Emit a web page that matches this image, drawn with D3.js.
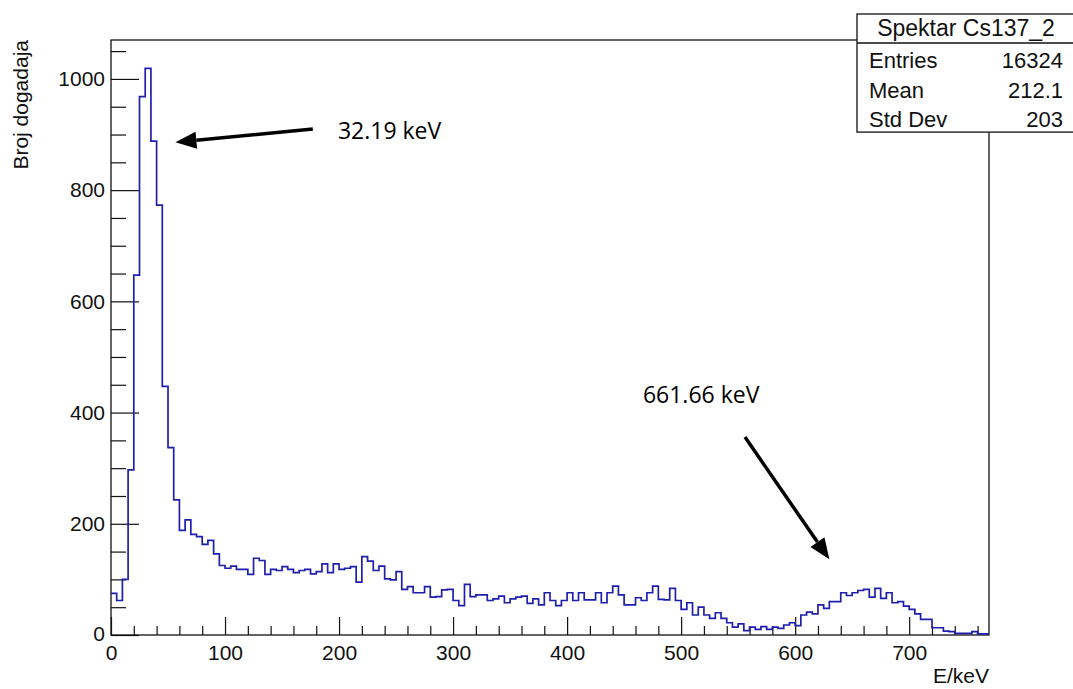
<!DOCTYPE html>
<html>
<head>
<meta charset="utf-8">
<script src="https://cdn.jsdelivr.net/npm/d3@7"></script>
<style>
  body { margin: 0; background: #fff; }
  svg { display: block; }
</style>
</head>
<body>
<div id="chart"></div>
<script>
'use strict';

// histogram: 5 keV bins from 0 to 770 keV
const binWidth = 5;
const xMax = 770;
const counts = [
  75, 62, 100, 297, 647, 968, 1019, 888, 773, 447, 337, 243, 188, 207, 181, 177, 163, 170, 146, 125,
  120, 124, 118, 118, 109, 138, 134, 109, 118, 116, 123, 118, 112, 116, 118, 110, 114, 128, 112, 128,
  118, 120, 123, 95, 141, 133, 116, 124, 101, 99, 114, 82, 87, 76, 76, 87, 68, 69, 81, 82,
  62, 53, 91, 69, 72, 72, 62, 65, 70, 58, 65, 68, 70, 57, 65, 54, 76, 62, 53, 62,
  76, 62, 76, 63, 63, 76, 58, 76, 88, 72, 54, 54, 67, 62, 76, 88, 64, 63, 84, 62,
  46, 58, 36, 50, 36, 30, 40, 30, 22, 14, 20, 8, 14, 10, 15, 10, 14, 12, 18, 22,
  17, 36, 41, 38, 54, 48, 60, 60, 76, 71, 76, 80, 82, 68, 84, 66, 76, 58, 60, 52,
  46, 38, 28, 28, 13, 13, 7, 6, 3, 3, 3, 6, 2, 2
];

const xTicks = [0, 100, 200, 300, 400, 500, 600, 700];
const yTicks = [0, 200, 400, 600, 800, 1000];

const statsTitle = 'Spektar Cs137_2';
const statsLabels = ['Entries', 'Mean', 'Std Dev'];
const statsValues = ['16324', '212.1', '203'];

// annotations in data coords: text anchor and arrow tail -> tip
const notes = [
  { text: '32.19 keV', tx: 199, ty: 892, x1: 177, y1: 910, x2: 56.5, y2: 886 },
  { text: '661.66 keV', tx: 466.5, ty: 417, x1: 556, y1: 356, x2: 630, y2: 136 },
];

const W = 1073, H = 689;
const frame = { left: 111, right: 989, top: 40, bottom: 635 };
const axisFont = '"Liberation Sans", Arial, Helvetica, sans-serif';

const svg = d3.select('#chart').append('svg')
  .attr('width', W).attr('height', H);

const x = d3.scaleLinear().domain([0, xMax]).range([frame.left, frame.right]);
const y = d3.scaleLinear().domain([0, 1070]).range([frame.bottom, frame.top]);

// frame
svg.append('rect')
  .attr('x', frame.left).attr('y', frame.top)
  .attr('width', frame.right - frame.left)
  .attr('height', frame.bottom - frame.top)
  .attr('fill', 'none').attr('stroke', '#111').attr('stroke-width', 1.3);

// y axis: major + minor ticks pointing inward
const yAxisG = svg.append('g')
  .attr('transform', `translate(${frame.left},0)`)
  .call(d3.axisLeft(y).tickValues(yTicks).tickSize(-28).tickPadding(6)
    .tickFormat(d3.format('d')));
svg.append('g')
  .attr('transform', `translate(${frame.left},0)`)
  .call(d3.axisLeft(y).tickValues(d3.range(0, 1051, 50).filter((v) => v % 200))
    .tickSize(-15).tickFormat(''));

// x axis
svg.append('g')
  .attr('transform', `translate(0,${frame.bottom})`)
  .call(d3.axisBottom(x).tickValues(xTicks).tickSize(-18).tickPadding(10)
    .tickFormat(d3.format('d')));
svg.append('g')
  .attr('transform', `translate(0,${frame.bottom})`)
  .call(d3.axisBottom(x).tickValues(d3.range(0, 761, 20).filter((v) => v % 100))
    .tickSize(-9).tickFormat(''));

svg.selectAll('.domain').remove();
svg.selectAll('.tick line').attr('stroke', '#111').attr('stroke-width', 1.2);
svg.selectAll('.tick text')
  .attr('font-family', axisFont).attr('font-size', 21).attr('fill', '#111');
// ROOT-ish placement of the zero label
yAxisG.selectAll('.tick text').filter((d) => d === 0).attr('dy', '0.25em');

// axis titles
svg.append('text')
  .attr('x', frame.right).attr('y', 683)
  .attr('text-anchor', 'end')
  .attr('font-family', axisFont).attr('font-size', 21).attr('fill', '#111')
  .text('E/keV');

svg.append('text')
  .attr('transform', `translate(28,${frame.top}) rotate(-90)`)
  .attr('text-anchor', 'end')
  .attr('font-family', axisFont).attr('font-size', 21).attr('fill', '#111')
  .text('Broj dogadaja');

// histogram as step line
const pts = counts.map((c, i) => [i * binWidth, c]);
pts.push([counts.length * binWidth, counts[counts.length - 1]]);

const line = d3.line()
  .x((d) => x(d[0]))
  .y((d) => y(d[1]))
  .curve(d3.curveStepAfter);

svg.append('path')
  .datum(pts)
  .attr('d', line)
  .attr('fill', 'none')
  .attr('stroke', '#1f1fae')
  .attr('stroke-width', 1.7);

// stats box
const box = { x: 857, y: 14, w: 220, titleH: 29, rowH: 29.7 };
const stats = svg.append('g');
stats.append('rect')
  .attr('x', box.x).attr('y', box.y)
  .attr('width', box.w).attr('height', box.titleH + 3 * box.rowH)
  .attr('fill', '#fff').attr('stroke', '#111').attr('stroke-width', 1.3);
stats.append('line')
  .attr('x1', box.x).attr('x2', box.x + box.w)
  .attr('y1', box.y + box.titleH).attr('y2', box.y + box.titleH)
  .attr('stroke', '#111').attr('stroke-width', 1.3);
stats.append('text')
  .attr('x', 966).attr('y', 36)
  .attr('text-anchor', 'middle')
  .attr('font-family', axisFont).attr('font-size', 23).attr('fill', '#111')
  .text(statsTitle);
statsLabels.forEach((lab, i) => {
  const by = 68 + i * box.rowH;
  stats.append('text')
    .attr('x', 869).attr('y', by)
    .attr('font-family', axisFont).attr('font-size', 22).attr('fill', '#111')
    .text(lab);
  stats.append('text')
    .attr('x', 1063).attr('y', by)
    .attr('text-anchor', 'end')
    .attr('font-family', axisFont).attr('font-size', 22).attr('fill', '#111')
    .text(statsValues[i]);
});

// annotations with arrows
const arrow = (g, x1, y1, x2, y2) => {
  const a = Math.atan2(y2 - y1, x2 - x1);
  const len = 21, half = 8.5;
  const bx = x2 - len * Math.cos(a), by = y2 - len * Math.sin(a);
  g.append('line')
    .attr('x1', x1).attr('y1', y1).attr('x2', bx).attr('y2', by)
    .attr('stroke', '#000').attr('stroke-width', 3.5);
  g.append('polygon')
    .attr('points', [
      [x2, y2],
      [bx + half * Math.sin(a), by - half * Math.cos(a)],
      [bx - half * Math.sin(a), by + half * Math.cos(a)],
    ].map((p) => p.join(',')).join(' '))
    .attr('fill', '#000');
};

const ann = svg.append('g');
notes.forEach((n) => {
  ann.append('text')
    .attr('x', x(n.tx)).attr('y', y(n.ty))
    .attr('font-family', '"Open Sans", "Noto Sans", sans-serif')
    .attr('font-size', 23).attr('fill', '#000')
    .text(n.text);
  arrow(ann, x(n.x1), y(n.y1), x(n.x2), y(n.y2));
});
</script>
</body>
</html>
